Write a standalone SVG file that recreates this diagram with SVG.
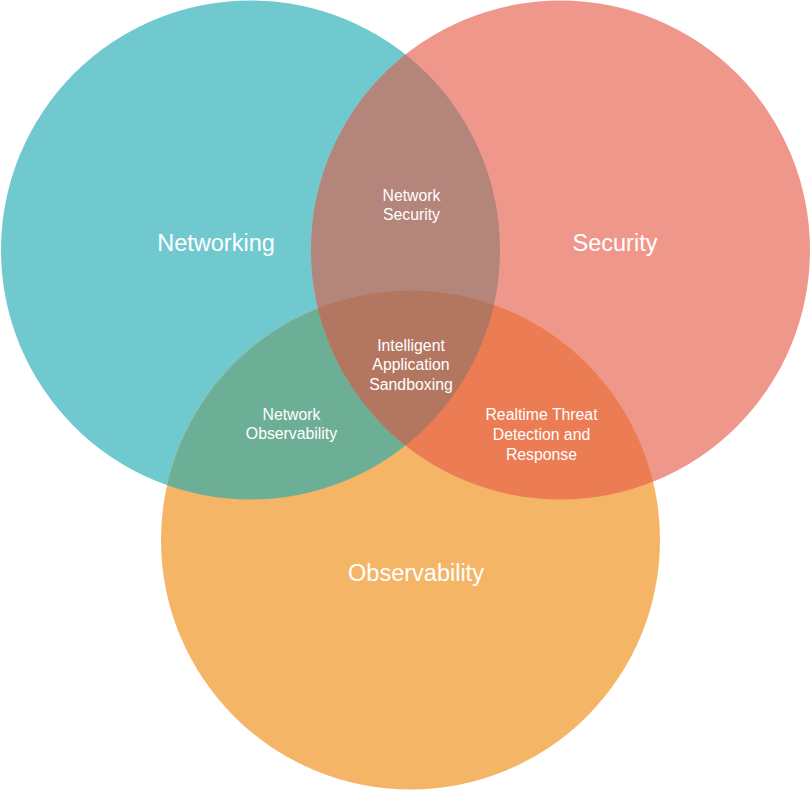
<svg xmlns="http://www.w3.org/2000/svg" width="811" height="791" viewBox="0 0 811 791">
<style>
.lbl{font-family:"Liberation Sans",Arial,sans-serif;fill:#ffffff;text-anchor:middle}
.big{font-size:23.5px}
.small{font-size:15.8px}
</style>
<defs>
<clipPath id="cN"><circle cx="250.5" cy="250" r="249.5"/></clipPath>
<clipPath id="cS"><circle cx="560.5" cy="250" r="249.5"/></clipPath>
<clipPath id="cO"><circle cx="410.5" cy="540" r="249.5"/></clipPath>
</defs>
<rect width="811" height="791" fill="#ffffff"/>
<g id="networking">
<circle cx="250.5" cy="250" r="249.5" fill="#70C9CF"/>
</g>
<g id="security">
<circle cx="560.5" cy="250" r="249.5" fill="#F0978B"/>
</g>
<g id="observability">
<circle cx="410.5" cy="540" r="249.5" fill="#F4B567"/>
</g>
<g id="network-security">
<g clip-path="url(#cN)"><circle cx="560.5" cy="250" r="249.5" fill="#B4857A"/></g>
</g>
<g id="network-observability">
<g clip-path="url(#cN)"><circle cx="410.5" cy="540" r="249.5" fill="#6DAE96"/></g>
</g>
<g id="realtime-threat">
<g clip-path="url(#cS)"><circle cx="410.5" cy="540" r="249.5" fill="#EC7C54"/></g>
</g>
<g id="intelligent-sandboxing">
<g clip-path="url(#cN)"><g clip-path="url(#cS)"><circle cx="410.5" cy="540" r="249.5" fill="#B37761"/></g></g>
</g>
<g id="connectors"></g>
<g id="labels">
<text class="lbl big" x="216" y="251">Networking</text>
<text class="lbl big" x="615" y="251">Security</text>
<text class="lbl big" x="416" y="581">Observability</text>
<text class="lbl small" x="411.5" y="201">Network</text>
<text class="lbl small" x="411.5" y="220">Security</text>
<text class="lbl small" x="411" y="351">Intelligent</text>
<text class="lbl small" x="411" y="370">Application</text>
<text class="lbl small" x="411" y="390">Sandboxing</text>
<text class="lbl small" x="291.5" y="420">Network</text>
<text class="lbl small" x="291.5" y="439">Observability</text>
<text class="lbl small" x="541.5" y="420">Realtime Threat</text>
<text class="lbl small" x="541.5" y="440">Detection and</text>
<text class="lbl small" x="541.5" y="460">Response</text>
</g>
</svg>
